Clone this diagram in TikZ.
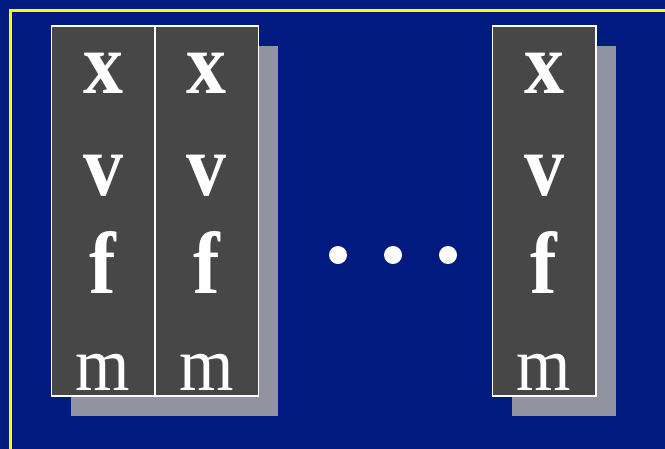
\documentclass[tikz,border=0pt]{standalone}
\usepackage{fontspec}
\setmainfont{Liberation Serif}
\definecolor{slidebg}{HTML}{001A80}
\definecolor{boxgray}{HTML}{474747}
\definecolor{shadowgray}{HTML}{9193A0}
\definecolor{framey}{HTML}{FFFF00}
\newcommand{\tallglyph}[1]{\scalebox{1}[1.1]{#1}}

\begin{document}
\begin{tikzpicture}[
  x=1pt,y=-1pt,
  col/.style={draw=white,line width=1.5pt,fill=boxgray,minimum width=103.5pt,
              minimum height=370pt,inner sep=0pt,outer sep=0pt},
  shd/.style={fill=shadowgray,minimum width=103.5pt,minimum height=370pt,
              inner sep=0pt,outer sep=0pt},
  sym/.style={text=white,font=\fontsize{80}{80}\selectfont\bfseries,anchor=base,
              inner sep=0pt},
  mss/.style={text=white,font=\fontsize{70}{70}\selectfont,anchor=base,inner sep=0pt},
  dot/.style={circle,fill=white,minimum size=18pt,inner sep=0pt}
]
\useasboundingbox (0,0) rectangle (665,448);
\clip (0,0) rectangle (665,448);
\fill[slidebg] (-5,-5) rectangle (670,453);
\draw[framey,line width=3.5pt] (10.5,10.5) rectangle (690,470);

% shadows
\node[shd] (s1) at (123,231) {};
\node[shd] (s2) at (226.5,231) {};
\node[shd] (s3) at (564,231) {};

% particle columns
\node[col] (c1) at (103,211) {};
\node[col] (c2) at (206.5,211) {};
\node[col] (c3) at (544,211) {};

\node[sym] (x1) at (c1 |- 0,93)  {\tallglyph{x}};
\node[sym] (v1) at (c1 |- 0,195) {\tallglyph{v}};
\node[sym] (f1) at (c1 |- 0,293) {\tallglyph{f}};
\node[mss] (m1) at (c1 |- 0,390) {\tallglyph{m}};

\node[sym] (x2) at (c2 |- 0,93)  {\tallglyph{x}};
\node[sym] (v2) at (c2 |- 0,195) {\tallglyph{v}};
\node[sym] (f2) at (c2 |- 0,293) {\tallglyph{f}};
\node[mss] (m2) at (c2 |- 0,390) {\tallglyph{m}};

\node[sym] (x3) at (c3 |- 0,93)  {\tallglyph{x}};
\node[sym] (v3) at (c3 |- 0,195) {\tallglyph{v}};
\node[sym] (f3) at (c3 |- 0,293) {\tallglyph{f}};
\node[mss] (m3) at (c3 |- 0,390) {\tallglyph{m}};

% ellipsis
\node[dot] (d1) at (338,255) {};
\node[dot] (d2) at (393,255) {};
\node[dot] (d3) at (448,255) {};
\end{tikzpicture}
\end{document}
